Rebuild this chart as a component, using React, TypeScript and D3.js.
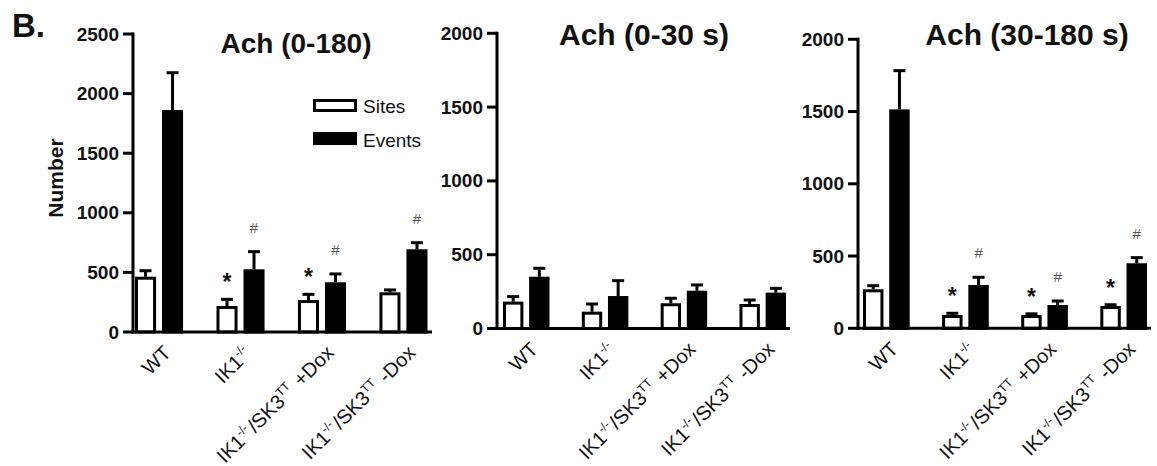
import React from "react";
import * as d3 from "d3";

// groups along the x axis
const groups = ["WT", "IK1", "SK3 +Dox", "SK3 -Dox"];
const series = ["Sites", "Events"];

// Ach (0-180)
const sitesAll = [464, 218, 268, 333];
const sitesAllErr = [50, 56, 48, 20];
const eventsAll = [1862, 526, 417, 694];
const eventsAllErr = [313, 148, 70, 55];
const starsAll = [false, true, true, false];
const hashAll = [false, true, true, true];

// Ach (0-30 s)
const sitesEarly = [182, 114, 171, 166];
const sitesEarlyErr = [34, 52, 34, 27];
const eventsEarly = [351, 220, 256, 243];
const eventsEarlyErr = [57, 104, 39, 29];
const starsEarly = [false, false, false, false];
const hashEarly = [false, false, false, false];

// Ach (30-180 s)
const sitesLate = [270, 92, 92, 154];
const sitesLateErr = [25, 12, 8, 9];
const eventsLate = [1515, 300, 161, 450];
const eventsLateErr = [268, 53, 28, 39];
const starsLate = [false, true, true, true];
const hashLate = [false, true, true, true];

const ticksAll = [0, 500, 1000, 1500, 2000, 2500];
const ticksShort = [0, 500, 1000, 1500, 2000];

const FONT = "'Liberation Sans', Arial, Helvetica, sans-serif";

const panels = [
  {
    title: "Ach (0-180)", titleX: 296, titleY: 53, titleSize: 28,
    axisX: 133, axisEnd: 432, yTop: 34, y0: 332, yMax: 2500, ticks: ticksAll,
    barStart: 135, barEnd: 427.5,
    sites: sitesAll, sitesErr: sitesAllErr, events: eventsAll, eventsErr: eventsAllErr,
    stars: starsAll, hashes: hashAll, legend: true,
  },
  {
    title: "Ach (0-30 s)", titleX: 644, titleY: 45, titleSize: 30,
    axisX: 497, axisEnd: 790, yTop: 33.3, y0: 328.5, yMax: 2000, ticks: ticksShort,
    barStart: 503, barEnd: 786,
    sites: sitesEarly, sitesErr: sitesEarlyErr, events: eventsEarly, eventsErr: eventsEarlyErr,
    stars: starsEarly, hashes: hashEarly, legend: false,
  },
  {
    title: "Ach (30-180 s)", titleX: 1027, titleY: 45, titleSize: 30,
    axisX: 858, axisEnd: 1151, yTop: 39.3, y0: 328.3, yMax: 2000, ticks: ticksShort,
    barStart: 863, barEnd: 1147,
    sites: sitesLate, sitesErr: sitesLateErr, events: eventsLate, eventsErr: eventsLateErr,
    stars: starsLate, hashes: hashLate, legend: false,
  },
];

const Label = ({ g, x, y }) => {
  const sup = (t) => (
    <>
      <tspan dy={-8} fontSize={12}>{t}</tspan>
      <tspan dy={8}>{"\u200A"}</tspan>
    </>
  );
  let content;
  if (g === "WT") content = "WT";
  else if (g === "IK1") content = (<>IK1{sup("-/-")}</>);
  else {
    const tail = g.startsWith("SK3 +") ? " +Dox" : " -Dox";
    content = (<>IK1{sup("-/-")}/SK3{sup("TT")}{tail}</>);
  }
  return (
    <text transform={`translate(${x},${y}) rotate(-45)`} textAnchor="end"
      fontSize={20} fontFamily={FONT} fill="#111">{content}</text>
  );
};

const Panel = ({ p }) => {
  const y = d3.scaleLinear().domain([0, p.yMax]).range([p.y0, p.yTop]);
  const x = d3.scaleBand().domain(groups).range([p.barStart, p.barEnd]).paddingInner(0.41).paddingOuter(0);
  const inner = d3.scaleBand().domain(series).range([0, x.bandwidth()]).paddingInner(0.22);
  const bw = inner.bandwidth();
  const sw = 3;

  return (
    <g>
      <text x={p.titleX} y={p.titleY} textAnchor="middle" fontSize={p.titleSize}
        fontWeight="bold" fontFamily={FONT} fill="#111">{p.title}</text>

      {groups.map((g, i) => {
        const gx = x(g);
        const vals = [
          { s: "Sites", v: p.sites[i], e: p.sitesErr[i], mark: p.stars[i] ? "*" : null },
          { s: "Events", v: p.events[i], e: p.eventsErr[i], mark: p.hashes[i] ? "#" : null },
        ];
        return (
          <g key={g}>
            {vals.map((d) => {
              const bx = gx + inner(d.s);
              const cx = bx + bw / 2;
              const top = y(d.v);
              const errTop = y(d.v + d.e);
              return (
                <g key={d.s}>
                  <line x1={cx} x2={cx} y1={top} y2={errTop} stroke="#000" strokeWidth={3} />
                  <line x1={cx - 6} x2={cx + 6} y1={errTop} y2={errTop} stroke="#000" strokeWidth={3} />
                  <rect x={bx + sw / 2} y={top + sw / 2} width={bw - sw}
                    height={Math.max(0, p.y0 - top - sw / 2)}
                    fill={d.s === "Sites" ? "#fff" : "#000"} stroke="#000" strokeWidth={sw} />
                  {d.mark === "*" && (
                    <text x={cx} y={errTop - 9} textAnchor="middle" fontSize={23}
                      fontWeight="bold" fontFamily={FONT} fill="#111">*</text>
                  )}
                  {d.mark === "#" && (
                    <text x={cx} y={errTop - 19} textAnchor="middle" fontSize={15}
                      fontFamily={FONT} fill="#555">#</text>
                  )}
                </g>
              );
            })}
            <Label g={g} x={gx + x.bandwidth() / 2 + 13} y={p.y0 + 22} />
          </g>
        );
      })}

      {/* axes */}
      <line x1={p.axisX} x2={p.axisX} y1={p.yTop - 1.5} y2={p.y0 + 1.5} stroke="#000" strokeWidth={3} />
      <line x1={p.axisX - 1.5} x2={p.axisEnd} y1={p.y0} y2={p.y0} stroke="#000" strokeWidth={3} />
      {p.ticks.map((t) => (
        <g key={t}>
          <line x1={p.axisX - 10} x2={p.axisX} y1={y(t)} y2={y(t)} stroke="#000" strokeWidth={3} />
          <text x={p.axisX - 14} y={y(t) + 6.5} textAnchor="end" fontSize={19}
            fontWeight="bold" fontFamily={FONT} fill="#111">{t}</text>
        </g>
      ))}

      {p.legend && (
        <g fontFamily={FONT} fontSize={19} fill="#111">
          <rect x={314.5} y={100.5} width={41} height={10} fill="#fff" stroke="#000" strokeWidth={3} />
          <text x={363} y={113}>Sites</text>
          <rect x={313} y={132} width={44} height={13} fill="#000" />
          <text x={363} y={147}>Events</text>
        </g>
      )}
    </g>
  );
};

export default function App() {
  return (
    <svg width={1157} height={466} style={{ position: "absolute", left: 0, top: 0, background: "#fff" }}>
      <rect width={1157} height={466} fill="#fff" />
      <text x={12} y={37} fontSize={33} fontWeight="bold" fontFamily={FONT} fill="#111">B.</text>
      <text transform="translate(63,178) rotate(-90)" textAnchor="middle" fontSize={21}
        fontWeight="bold" fontFamily={FONT} fill="#111">Number</text>
      {panels.map((p) => <Panel key={p.title} p={p} />)}
    </svg>
  );
}
